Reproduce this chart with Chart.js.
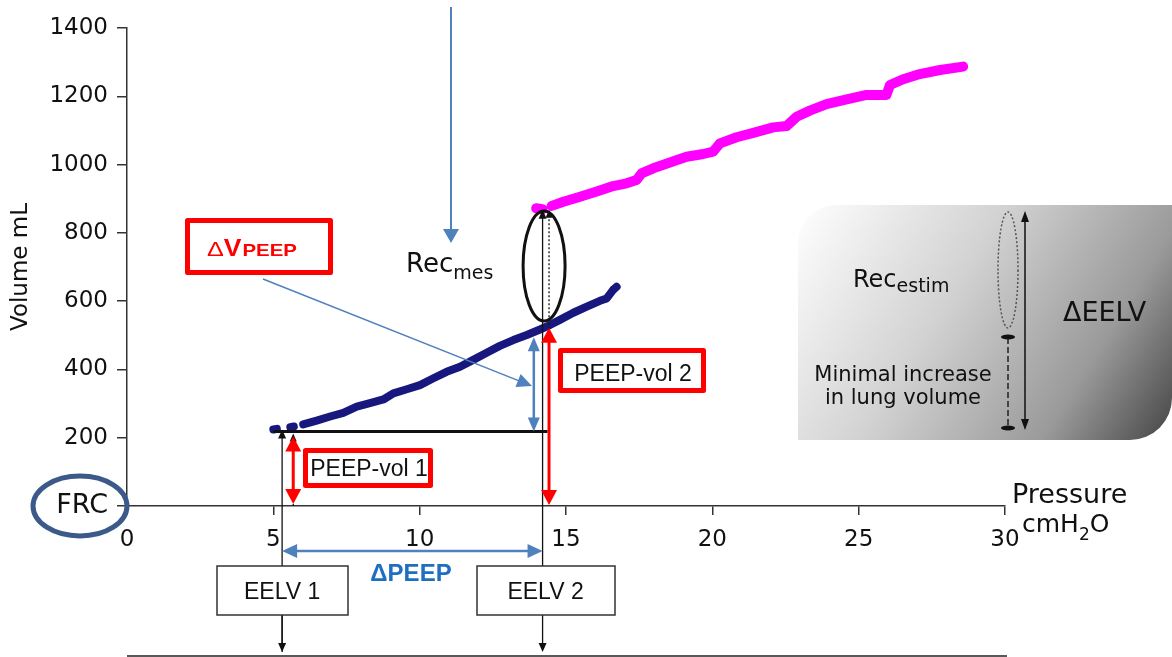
<!DOCTYPE html>
<html>
<head>
<meta charset="utf-8">
<script src="https://cdn.jsdelivr.net/npm/chart.js@4.4.1/dist/chart.umd.min.js"></script>
<style>
  html, body { margin: 0; padding: 0; background: #fff; }
  #wrap { width: 1172px; height: 657px; }
</style>
</head>
<body>
<div id="wrap"><canvas id="pvChart" width="1172" height="657"></canvas></div>
<script>
// PV curve recorded at the low PEEP (null = break in the trace)
const lowPeepPressure = [5.00, 5.12, null, 5.58, 5.70, null, 6.02, 6.48, 6.94, 7.39, 7.85, 8.30, 8.76, 9.10, 9.56, 10.01,
  10.47, 10.92, 11.38, 11.83, 12.29, 12.74, 13.20, 13.66, 14.11, 14.45, 14.79, 15.25, 15.71, 16.16, 16.39, 16.61, 16.73];
const lowPeepVolume = [224, 226, null, 231, 233, null, 239, 250, 262, 273, 291, 301, 312, 330, 342, 354,
  374, 393, 408, 428, 449, 469, 486, 501, 517, 530, 545, 566, 584, 601, 608, 633, 642];

// PV curve recorded at the high PEEP
const highPeepPressure = [13.98, 14.20, null, 14.51, 14.91, 15.48, 16.05, 16.61, 17.07, 17.41, 17.58, 17.98, 18.55,
  19.12, 19.69, 20.03, 20.26, 20.83, 21.40, 22.08, 22.54, 22.88, 23.33, 23.90, 24.59, 25.27, 25.95, 26.07,
  26.52, 27.09, 27.78, 28.57];
const highPeepVolume = [872, 869, null, 879, 891, 906, 921, 937, 945, 955, 974, 989, 1006,
  1023, 1031, 1038, 1062, 1080, 1093, 1109, 1113, 1140, 1158, 1177, 1191, 1204, 1204, 1233,
  1250, 1265, 1277, 1287];

const xTicks = [0, 5, 10, 15, 20, 25, 30];
const yTicks = [0, 200, 400, 600, 800, 1000, 1200, 1400];

// reference levels used by the annotations
const eelv1Pressure = 5.3;
const eelv2Pressure = 14.2;
const peepVol1Pressure = 5.68;
const peepVol2Pressure = 14.42;
const deltaVPressure = 13.9;
const eelv1Volume = 218;
const curveAtPeep2 = 522;
const deltaVTop = 494;
const highPeepStart = 868;

const toPoints = (xs, ys) => xs.map((x, i) => ({ x: x, y: ys[i] }));

const BLUE = '#4f81bd';
const RED = '#ff0000';
const SANS = '"Liberation Sans", Arial, sans-serif';
const WIDE = '"DejaVu Sans", sans-serif';

function head(ctx, x, y, ang, len, hw, color) {
  ctx.save();
  ctx.translate(x, y);
  ctx.rotate(ang);
  ctx.beginPath();
  ctx.moveTo(0, 0);
  ctx.lineTo(-len, -hw);
  ctx.lineTo(-len, hw);
  ctx.closePath();
  ctx.fillStyle = color;
  ctx.fill();
  ctx.restore();
}

function arrow(ctx, x1, y1, x2, y2, o) {
  const ang = Math.atan2(y2 - y1, x2 - x1);
  const len = o.len || 10, hw = o.hw || 4;
  let sx = x1, sy = y1, ex = x2, ey = y2;
  if (o.end !== false) { ex -= Math.cos(ang) * len * 0.7; ey -= Math.sin(ang) * len * 0.7; }
  if (o.start) { sx += Math.cos(ang) * len * 0.7; sy += Math.sin(ang) * len * 0.7; }
  ctx.save();
  ctx.strokeStyle = o.color;
  ctx.lineWidth = o.width || 1.5;
  ctx.setLineDash(o.dash || []);
  ctx.beginPath();
  ctx.moveTo(sx, sy);
  ctx.lineTo(ex, ey);
  ctx.stroke();
  ctx.restore();
  if (o.end !== false) head(ctx, x2, y2, ang, len, hw, o.color);
  if (o.start) head(ctx, x1, y1, ang + Math.PI, len, hw, o.color);
}

function line(ctx, x1, y1, x2, y2, color, width, dash) {
  ctx.save();
  ctx.strokeStyle = color;
  ctx.lineWidth = width;
  ctx.setLineDash(dash || []);
  ctx.beginPath();
  ctx.moveTo(x1, y1);
  ctx.lineTo(x2, y2);
  ctx.stroke();
  ctx.restore();
}

// draws text, returns the advance width; sx stretches it horizontally
function txt(ctx, s, x, y, font, color, align, sx) {
  sx = sx || 1;
  ctx.save();
  ctx.font = font;
  ctx.fillStyle = color;
  ctx.textBaseline = 'alphabetic';
  const w = ctx.measureText(s).width * sx;
  let left = x;
  if (align === 'center') left = x - w / 2;
  if (align === 'right') left = x - w;
  ctx.translate(left, y);
  ctx.scale(sx, 1);
  ctx.fillText(s, 0, 0);
  ctx.restore();
  return w;
}

function ellipse(ctx, cx, cy, rx, ry, color, width, dash) {
  ctx.save();
  ctx.strokeStyle = color;
  ctx.lineWidth = width;
  ctx.setLineDash(dash || []);
  ctx.beginPath();
  ctx.ellipse(cx, cy, rx, ry, 0, 0, Math.PI * 2);
  ctx.stroke();
  ctx.restore();
}

function redBox(ctx, l, t, r, b, w) {
  ctx.save();
  ctx.fillStyle = '#fff';
  ctx.fillRect(l, t, r - l, b - t);
  ctx.strokeStyle = RED;
  ctx.lineWidth = w;
  ctx.lineJoin = 'round';
  ctx.strokeRect(l + w / 2, t + w / 2, r - l - w, b - t - w);
  ctx.restore();
}

function plainBox(ctx, l, t, r, b) {
  ctx.save();
  ctx.fillStyle = '#fff';
  ctx.fillRect(l, t, r - l, b - t);
  ctx.strokeStyle = '#333';
  ctx.lineWidth = 1.5;
  ctx.strokeRect(l, t, r - l, b - t);
  ctx.restore();
}

// shaded legend panel on the right
const panelPlugin = {
  id: 'panel',
  beforeDatasetsDraw(chart) {
    const ctx = chart.ctx;
    const l = 798, t = 205, r = 1172, b = 440, rTL = 38, rBR = 42;
    ctx.save();
    const g = ctx.createLinearGradient(l, t, r, b);
    g.addColorStop(0, '#ffffff');
    g.addColorStop(0.4, '#d2d2d2');
    g.addColorStop(0.75, '#9a9a9a');
    g.addColorStop(1, '#454545');
    ctx.fillStyle = g;
    ctx.beginPath();
    ctx.moveTo(l, t + rTL);
    ctx.arcTo(l, t, l + rTL, t, rTL);
    ctx.lineTo(r, t);
    ctx.lineTo(r, b - rBR);
    ctx.arcTo(r, b, r - rBR, b, rBR);
    ctx.lineTo(l, b);
    ctx.closePath();
    ctx.fill();
    ctx.restore();

    const w = txt(ctx, 'Rec', 853, 287, `24px ${WIDE}`, '#111');
    txt(ctx, 'estim', 853 + w, 292, `19px ${WIDE}`, '#111');
    txt(ctx, '\u0394EELV', 1063, 321, `27px ${WIDE}`, '#111');
    txt(ctx, 'Minimal increase', 903, 381, `21px ${WIDE}`, '#111', 'center');
    txt(ctx, 'in lung volume', 903, 404, `21px ${WIDE}`, '#111', 'center');

    ellipse(ctx, 1008, 270, 10, 58, '#555', 1.5, [2, 2]);
    line(ctx, 1008, 338, 1008, 428, '#222', 1.5, [6, 3]);
    ctx.save();
    ctx.fillStyle = '#111';
    ctx.beginPath(); ctx.ellipse(1008, 337, 7, 2.5, 0, 0, Math.PI * 2); ctx.fill();
    ctx.beginPath(); ctx.ellipse(1008, 428, 7, 2.5, 0, 0, Math.PI * 2); ctx.fill();
    ctx.restore();
    arrow(ctx, 1025, 320, 1025, 211, { color: '#111', width: 1.5, len: 11, hw: 4 });
    arrow(ctx, 1025, 320, 1025, 430, { color: '#111', width: 1.5, len: 11, hw: 4 });
  }
};

// EELV / PEEP-volume annotations
const notesPlugin = {
  id: 'notes',
  afterDatasetsDraw(chart) {
    const ctx = chart.ctx;
    const xs = chart.scales.x, ys = chart.scales.y;
    const X = v => xs.getPixelForValue(v);
    const Y = v => ys.getPixelForValue(v);
    const y0 = Y(0), yPeep = Y(eelv1Volume);

    // baseline under the EELV boxes
    line(ctx, X(0), 656, X(30) + 2, 656, '#222', 1.5);

    // PEEP 1 level carried across to PEEP 2
    line(ctx, X(lowPeepPressure[0]), yPeep, X(eelv2Pressure) + 5, yPeep, '#111', 3);

    // EELV 1
    arrow(ctx, X(eelv1Pressure), 652, X(eelv1Pressure), yPeep - 2, { color: '#111', width: 1.3, len: 9, hw: 4 });
    arrow(ctx, X(eelv1Pressure), 600, X(eelv1Pressure), 652, { color: '#111', width: 1.3, len: 9, hw: 4 });
    arrow(ctx, X(peepVol1Pressure), y0, X(peepVol1Pressure), yPeep + 2, { color: '#111', width: 1.3, dash: [2, 2], len: 8, hw: 3.5 });
    arrow(ctx, X(peepVol1Pressure), yPeep + 5, X(peepVol1Pressure), y0 - 2, { color: RED, width: 3, start: true, len: 15, hw: 8 });

    // EELV 2
    arrow(ctx, X(eelv2Pressure), 600, X(eelv2Pressure), Y(highPeepStart), { color: '#111', width: 1.3, len: 9, hw: 4 });
    arrow(ctx, X(eelv2Pressure), 600, X(eelv2Pressure), 652, { color: '#111', width: 1.3, len: 9, hw: 4 });
    arrow(ctx, X(peepVol2Pressure), Y(highPeepStart), X(peepVol2Pressure), y0 - 2, { color: '#111', width: 1.3, dash: [2, 2], start: true, len: 8, hw: 3.5 });
    arrow(ctx, X(peepVol2Pressure), Y(curveAtPeep2), X(peepVol2Pressure), y0 - 1, { color: RED, width: 3, start: true, len: 15, hw: 8 });

    // volume gained between the two PEEP levels
    arrow(ctx, X(deltaVPressure), Y(deltaVTop), X(deltaVPressure), yPeep, { color: BLUE, width: 2.5, start: true, len: 14, hw: 6 });

    // recruited volume ellipse
    ellipse(ctx, X(eelv2Pressure) + 1.5, 266, 21, 55, '#111', 3);

    // arrow down onto Rec_mes
    arrow(ctx, 451, 7, 451, 243, { color: BLUE, width: 2, len: 14, hw: 8 });
    let w = txt(ctx, 'Rec', 406, 272, `26px ${WIDE}`, '#111');
    txt(ctx, 'mes', 406 + w, 279, `19px ${WIDE}`, '#111');

    // Delta V PEEP label and its pointer
    arrow(ctx, 263, 279, 532, 386, { color: BLUE, width: 1.5, len: 15, hw: 7 });
    redBox(ctx, 185, 218, 333, 275, 5);
    let x = 207;
    x += txt(ctx, '\u0394', x, 256, `21px ${SANS}`, RED, 'left', 1.2);
    x += txt(ctx, 'V', x, 256, `bold 23px ${SANS}`, RED, 'left', 1.15);
    txt(ctx, 'PEEP', x + 1, 256, `bold 17px ${SANS}`, RED, 'left', 1.2);

    // PEEP-vol boxes
    redBox(ctx, 303, 448, 433, 488, 5);
    txt(ctx, 'PEEP-vol 1', 369, 476, `23px ${SANS}`, '#111', 'center');
    redBox(ctx, 558, 348, 706, 393, 5);
    txt(ctx, 'PEEP-vol 2', 633, 381, `23px ${SANS}`, '#111', 'center');

    // FRC marker on the volume axis
    ellipse(ctx, 80, 506, 47, 30, '#3b5a8a', 5);

    // Delta PEEP
    arrow(ctx, X(eelv1Pressure), 551, X(eelv2Pressure), 551, { color: BLUE, width: 2.5, start: true, len: 15, hw: 7 });
    txt(ctx, '\u0394PEEP', 411, 581, `bold 24px ${SANS}`, '#1f6fc0', 'center');

    // EELV boxes
    plainBox(ctx, 217, 566, 348, 615);
    txt(ctx, 'EELV 1', X(eelv1Pressure), 599, `23px ${SANS}`, '#111', 'center');
    plainBox(ctx, 477, 566, 615, 615);
    txt(ctx, 'EELV 2', X(eelv2Pressure) + 3, 599, `23px ${SANS}`, '#111', 'center');

    // pressure axis title
    txt(ctx, 'Pressure', 1012, 503, `27px ${WIDE}`, '#111');
    w = txt(ctx, 'cmH', 1022, 532, `25px ${WIDE}`, '#111');
    const w2 = txt(ctx, '2', 1022 + w, 540, `17px ${WIDE}`, '#111');
    txt(ctx, 'O', 1022 + w + w2, 532, `25px ${WIDE}`, '#111');
  }
};

const ctx = document.getElementById('pvChart');
new Chart(ctx, {
  type: 'scatter',
  data: {
    datasets: [
      {
        label: 'Low PEEP',
        data: toPoints(lowPeepPressure, lowPeepVolume),
        showLine: true,
        borderColor: '#17177e',
        borderWidth: 8,
        borderCapStyle: 'round',
        borderJoinStyle: 'round',
        pointRadius: 0,
        spanGaps: false
      },
      {
        label: 'High PEEP',
        data: toPoints(highPeepPressure, highPeepVolume),
        showLine: true,
        borderColor: '#ff00ff',
        borderWidth: 10,
        borderCapStyle: 'round',
        borderJoinStyle: 'round',
        pointRadius: 0,
        spanGaps: false
      }
    ]
  },
  options: {
    responsive: false,
    animation: false,
    devicePixelRatio: 1,
    layout: { padding: { top: 28, right: 167, left: 0, bottom: 0 } },
    plugins: { legend: { display: false }, tooltip: { enabled: false } },
    scales: {
      x: {
        type: 'linear',
        min: 0,
        max: 30,
        afterBuildTicks: s => { s.ticks = xTicks.map(v => ({ value: v })); },
        afterFit: s => { s.height = 151; },
        grid: { drawOnChartArea: false, drawTicks: true, tickLength: 9, color: '#333', lineWidth: 1.5 },
        border: { color: '#333', width: 1.5 },
        ticks: { color: '#111', font: { family: 'DejaVu Sans', size: 23 }, padding: 11, maxRotation: 0, autoSkip: false }
      },
      y: {
        type: 'linear',
        min: 0,
        max: 1400,
        afterBuildTicks: s => { s.ticks = yTicks.map(v => ({ value: v })); },
        afterFit: s => { s.width = 127; },
        grid: { drawOnChartArea: false, drawTicks: true, tickLength: 10, color: '#333', lineWidth: 1.5 },
        border: { color: '#333', width: 1.5 },
        ticks: {
          color: '#111',
          padding: 9,
          autoSkip: false,
          callback: v => (v === 0 ? 'FRC' : v),
          font: c => ({ family: 'DejaVu Sans', size: c.tick && c.tick.value === 0 ? 27 : 23 })
        },
        title: {
          display: true,
          text: 'Volume mL',
          color: '#111',
          font: { family: 'DejaVu Sans', size: 23 },
          padding: { top: 7, bottom: 0 }
        }
      }
    }
  },
  plugins: [panelPlugin, notesPlugin]
});
</script>
</body>
</html>
